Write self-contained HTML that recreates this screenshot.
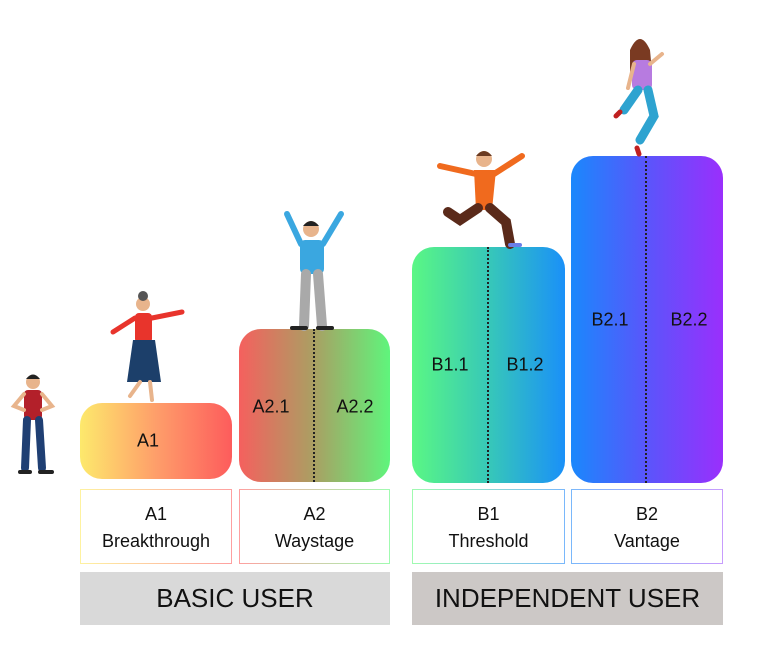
<!DOCTYPE html>
<html><head><meta charset="utf-8"><style>
body{margin:0;background:#fff;width:774px;height:669px;overflow:hidden;position:relative;font-family:"Liberation Sans",sans-serif;}
.bar{position:absolute;border-radius:22px;}
.t{position:absolute;font-size:18px;color:#111;transform:translate(-50%,-50%);white-space:nowrap;}
.dot{position:absolute;width:0;border-left:2px dotted #222;}
.lb{position:absolute;box-sizing:border-box;background:#fff;text-align:center;font-size:18px;line-height:27px;color:#111;padding-top:11px;}
.g{position:absolute;top:572px;height:53px;font-size:26px;line-height:53px;text-align:center;color:#111;}
</style></head><body>
<div class="bar" style="left:80px;top:403px;width:152px;height:76px;background:linear-gradient(90deg,#fde96c,#fe9e6a 50%,#fd5c5c)"></div>
<div class="t" style="left:148px;top:441px">A1</div>
<div class="bar" style="left:239px;top:329px;width:151px;height:153px;background:linear-gradient(90deg,#f5605e,#a9a063 50%,#5ff57c)"></div>
<div class="dot" style="left:313px;top:329px;height:153px"></div>
<div class="t" style="left:271px;top:407px">A2.1</div><div class="t" style="left:355px;top:407px">A2.2</div>
<div class="bar" style="left:412px;top:247px;width:153px;height:236px;background:linear-gradient(90deg,#5af784,#37c8b8 50%,#1a90f8)"></div>
<div class="dot" style="left:487px;top:247px;height:236px"></div>
<div class="t" style="left:450px;top:365px">B1.1</div><div class="t" style="left:525px;top:365px">B1.2</div>
<div class="bar" style="left:571px;top:156px;width:152px;height:327px;background:linear-gradient(90deg,#1a88fc,#5a55fb 50%,#9a2ffc)"></div>
<div class="dot" style="left:645px;top:156px;height:327px"></div>
<div class="t" style="left:610px;top:320px">B2.1</div><div class="t" style="left:689px;top:320px">B2.2</div>

<div class="lb" style="left:80px;top:489px;width:152px;height:75px;border:1.5px solid;border-image:linear-gradient(90deg,#fef2a0,#fea0a0) 1">A1<br>Breakthrough</div>
<div class="lb" style="left:239px;top:489px;width:151px;height:75px;border:1.5px solid;border-image:linear-gradient(90deg,#fea0a0,#a0fbb0) 1">A2<br>Waystage</div>
<div class="lb" style="left:412px;top:489px;width:153px;height:75px;border:1.5px solid;border-image:linear-gradient(90deg,#a0fbb0,#7ab8fb) 1">B1<br>Threshold</div>
<div class="lb" style="left:571px;top:489px;width:152px;height:75px;border:1.5px solid;border-image:linear-gradient(90deg,#7ab8fb,#c79cfd) 1">B2<br>Vantage</div>
<div class="g" style="left:80px;width:310px;background:#d9d9d9">BASIC USER</div>
<div class="g" style="left:412px;width:311px;background:#ccc8c6">INDEPENDENT USER</div>

<svg width="774" height="669" style="position:absolute;left:0;top:0">
<!-- person 1 -->
<g stroke-linecap="round">
<circle cx="33" cy="382" r="7" fill="#e8b48c"/><path d="M26 379 q7 -9 14 0" fill="#222"/>
<rect x="24" y="390" width="18" height="30" rx="4" fill="#b3202a"/>
<path d="M24 394 l-10 12 l10 4 M42 394 l10 12 l-10 4" stroke="#e8b48c" stroke-width="4" fill="none"/>
<path d="M27 420 l-2 48 M39 420 l3 48" stroke="#1f3f73" stroke-width="8"/>
<path d="M20 472 h10 M40 472 h12" stroke="#222" stroke-width="4"/>
</g>
<!-- person 2 -->
<g stroke-linecap="round">
<circle cx="143" cy="304" r="7" fill="#e8b48c"/><circle cx="143" cy="296" r="5" fill="#555"/>
<rect x="135" y="313" width="17" height="30" rx="4" fill="#e8342c"/>
<path d="M135 318 l-22 14 M152 318 l30 -6" stroke="#e8342c" stroke-width="5" fill="none"/>
<path d="M133 340 h22 l6 42 h-34z" fill="#1c3f6a"/>
<path d="M140 382 l-10 14 M150 382 l2 18" stroke="#e8b48c" stroke-width="4"/>
</g>
<!-- person 3 -->
<g stroke-linecap="round">
<circle cx="311" cy="229" r="8" fill="#e8b48c"/><path d="M303 226 q8 -10 16 0" fill="#222"/>
<rect x="300" y="240" width="24" height="34" rx="5" fill="#3aa7e0"/>
<path d="M301 244 l-14 -30 M323 244 l18 -30" stroke="#3aa7e0" stroke-width="6" fill="none"/>
<path d="M306 274 l-2 52 M318 274 l4 52" stroke="#a9a9a9" stroke-width="10"/>
<path d="M292 328 h14 M318 328 h14" stroke="#222" stroke-width="4"/>
</g>
<!-- person 4 -->
<g stroke-linecap="round">
<circle cx="484" cy="159" r="8" fill="#e8b48c"/><path d="M476 156 q8 -10 16 0" fill="#6a3b22"/>
<path d="M474 170 h22 l-4 40 h-16z" fill="#f06a1e"/>
<path d="M476 174 l-36 -8 M494 174 l28 -18" stroke="#f06a1e" stroke-width="6" fill="none"/>
<path d="M478 208 l-18 12 l-12 -8 M490 208 l16 14 l4 22" stroke="#5a2a1a" stroke-width="10" fill="none"/>
<path d="M510 245 h10" stroke="#6a7ee8" stroke-width="4"/>
</g>
<!-- person 5 -->
<g stroke-linecap="round">
<circle cx="640" cy="50" r="8" fill="#e8b48c"/><path d="M630 50 q10 -22 20 0 l2 22 h-22z" fill="#7a3a22"/>
<rect x="632" y="60" width="20" height="30" rx="5" fill="#b77be0"/>
<path d="M634 64 l-6 24 M650 64 l12 -10" stroke="#e8b48c" stroke-width="4" fill="none"/>
<path d="M638 90 l-14 20 M648 90 l6 26 l-14 24" stroke="#2ea3d0" stroke-width="9" fill="none"/>
<path d="M620 112 l-4 4 M637 148 l2 6" stroke="#c02020" stroke-width="5"/>
</g>
</svg>
</body></html>
